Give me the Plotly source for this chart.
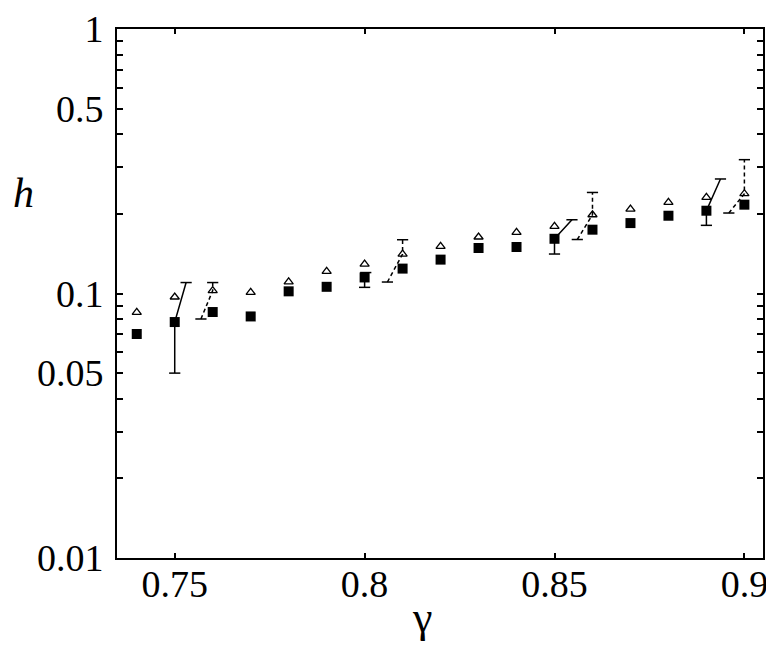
import plotly.graph_objects as go

# ---- data ----
gamma = [0.74, 0.75, 0.76, 0.77, 0.78, 0.79, 0.80, 0.81, 0.82,
         0.83, 0.84, 0.85, 0.86, 0.87, 0.88, 0.89, 0.90]
h_square = [0.0703, 0.078, 0.0851, 0.0819, 0.1019, 0.106, 0.115, 0.1242, 0.1343,
            0.1486, 0.1499, 0.161, 0.1743, 0.1846, 0.1968, 0.2056, 0.2167]
h_triangle = [0.0848, 0.097, 0.1025, 0.101, 0.1107, 0.1213, 0.1292, 0.141, 0.1507,
              0.1635, 0.1702, 0.1794, 0.1985, 0.2086, 0.221, 0.2309, 0.2384]

# solid error bars attached to squares: lower end vertical, upper end slanted
sq_err_x = [0.75, 0.80, 0.85, 0.89]
sq_err_lo = [0.050, 0.1055, 0.141, 0.181]
sq_err_up_x = [0.753, 0.8003, 0.8546, 0.8937]
sq_err_up = [0.110, 0.120, 0.190, 0.271]

# dashed error bars attached to triangles: upper end vertical, lower end slanted
tr_err_x = [0.76, 0.81, 0.86, 0.90]
tr_err_up = [0.110, 0.1597, 0.241, 0.3206]
tr_err_lo_x = [0.7569, 0.806, 0.8560, 0.8959]
tr_err_lo = [0.0801, 0.1105, 0.160, 0.2015]

y_tickvals = [0.01, 0.02, 0.03, 0.04, 0.05, 0.06, 0.07, 0.08, 0.09,
              0.1, 0.2, 0.3, 0.4, 0.5, 0.6, 0.7, 0.8, 0.9, 1]
y_ticktext = ["0.01", "", "", "", "0.05", "", "", "", "",
              "0.1", "", "", "", "0.5", "", "", "", "", "1"]
x_tickvals = [0.75, 0.80, 0.85, 0.90]
x_ticktext = ["0.75", "0.8", "0.85", "0.9"]

FONT = "Liberation Serif"
fig = go.Figure()

# error bar lines
for x, lo, ux, up, y in zip(sq_err_x, sq_err_lo, sq_err_up_x, sq_err_up,
                             [h_square[gamma.index(g)] for g in sq_err_x]):
    fig.add_trace(go.Scatter(x=[x, x, ux], y=[lo, y, up], mode="lines",
                             line=dict(color="black", width=1.5),
                             showlegend=False, hoverinfo="skip"))
    fig.add_trace(go.Scatter(x=[x, ux], y=[lo, up], mode="markers",
                             marker=dict(symbol="line-ew", size=8,
                                         line=dict(color="black", width=1.5)),
                             showlegend=False, hoverinfo="skip"))

for x, up, lx, lo, y in zip(tr_err_x, tr_err_up, tr_err_lo_x, tr_err_lo,
                             [h_triangle[gamma.index(g)] for g in tr_err_x]):
    fig.add_trace(go.Scatter(x=[lx, x, x], y=[lo, y, up], mode="lines",
                             line=dict(color="black", width=1.5, dash="4px,3px"),
                             showlegend=False, hoverinfo="skip"))
    fig.add_trace(go.Scatter(x=[lx, x], y=[lo, up], mode="markers",
                             marker=dict(symbol="line-ew", size=8,
                                         line=dict(color="black", width=1.5)),
                             showlegend=False, hoverinfo="skip"))

fig.add_trace(go.Scatter(x=gamma, y=h_triangle, mode="markers",
                         marker=dict(symbol="triangle-up-open", size=8, color="black",
                                     line=dict(color="black", width=1.3)),
                         showlegend=False))
fig.add_trace(go.Scatter(x=gamma, y=h_square, mode="markers",
                         marker=dict(symbol="square", size=10, color="black",
                                     line=dict(width=0)),
                         showlegend=False))

fig.update_layout(
    width=774, height=648,
    margin=dict(l=109, r=19, t=21, b=98),
    paper_bgcolor="white", plot_bgcolor="white",
    showlegend=False,
)
fig.update_xaxes(range=[0.7348, 0.9049], tickvals=x_tickvals, ticktext=x_ticktext,
                 ticks="inside", ticklen=5, tickwidth=1.5, tickcolor="black",
                 showline=True, linecolor="black", linewidth=2, mirror="ticks",
                 showgrid=False, zeroline=False, automargin=False,
                 ticklabelstandoff=-9,
                 tickfont=dict(family=FONT, size=38, color="black"))
fig.update_yaxes(type="log", range=[-2, 0], tickvals=y_tickvals, ticktext=y_ticktext,
                 ticks="inside", ticklen=6, tickwidth=1.5, tickcolor="black",
                 showline=True, linecolor="black", linewidth=2, mirror="ticks",
                 showgrid=False, zeroline=False, automargin=False,
                 ticklabelstandoff=4,
                 tickfont=dict(family=FONT, size=38, color="black"))

fig.add_annotation(text="<i>h</i>", xref="paper", yref="paper", x=-0.144, y=0.69,
                   xanchor="center", yanchor="middle", showarrow=False,
                   font=dict(family=FONT, size=42, color="black"))
fig.add_annotation(text="γ", xref="paper", yref="paper", x=0.472, y=-0.112,
                   xanchor="center", yanchor="middle", showarrow=False,
                   font=dict(family=FONT, size=44, color="black"))

fig.write_html("out.html")
